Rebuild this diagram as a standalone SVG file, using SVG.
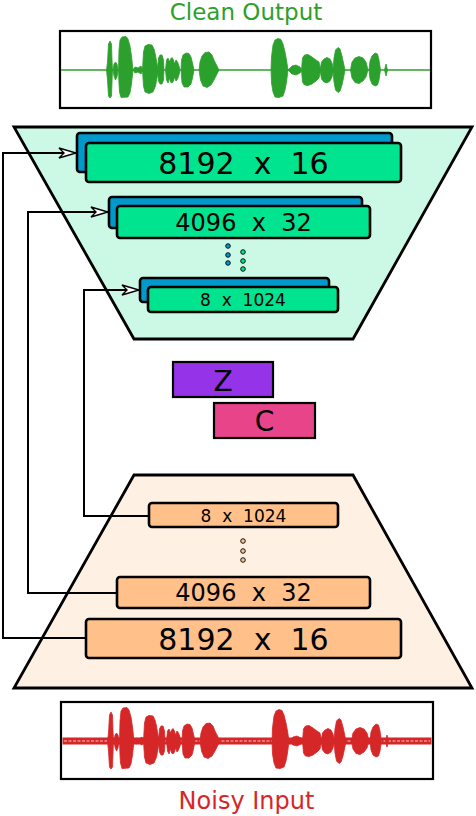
<svg xmlns="http://www.w3.org/2000/svg" xmlns:xlink="http://www.w3.org/1999/xlink" width="476" height="816" viewBox="0 0 476 816">
<style>
text{font-family:"DejaVu Sans","Liberation Sans",sans-serif;text-anchor:middle;fill:#000}
.trap{stroke:#000;stroke-width:2.8;stroke-linejoin:miter}
.blk{stroke:#000;stroke-width:2.6}
.back{fill:#0099cc}
.front{fill:#00e38f}
.enc{fill:#ffc08a}
.conn{fill:none;stroke:#000;stroke-width:2}
.wbox{fill:#fff;stroke:#000;stroke-width:2.2}
.dot{stroke:#000;stroke-width:0.9}
</style>
<defs>
<marker id="arr" markerWidth="20" markerHeight="12" refX="17" refY="5" orient="auto" markerUnits="userSpaceOnUse" overflow="visible">
<path d="M0,0 L17,5 L0,10 L5,5 Z" fill="#fff" stroke="#000" stroke-width="1.4" stroke-linejoin="miter"/>
</marker>
<path id="wave" stroke-width="0.8" stroke-linejoin="round" d="M106.5,70 L107.5,62 L108.5,44 L110,41 L111.5,44 L112,60 L112.5,70 L112,82 L111.5,96 L110,98 L108.5,96 L107.5,80 Z
M113,70 L114,64 L115.5,62 L117,64 L118,70 L117,77 L115.5,80 L114,76 Z
M118.5,70 L119,50 L120,40 L122,37 L126,36.5 L128,39 L130,46 L131.5,56 L133,70 L131.5,84 L130,93 L128,97 L121,97.5 L119.5,92 L119,84 Z
M133,70 L135,67 L138,68 L141,66 L143,70 L141,74 L138,72 L135,73 Z
M142.5,70 L143.5,52 L145,46 L148,44.5 L152,45 L154,49 L155.5,55 L157,64 L158,70 L157,78 L155.5,86 L153,92 L149,93.5 L145,92 L143.5,86 Z
M157.5,70 L158.5,58 L160,55 L162,55 L163.5,60 L164,70 L163.5,80 L162,84 L160,84 L158.5,81 Z
M165.5,70 L166.5,60 L168,58 L169.5,62 L170.5,59 L172,57.5 L173.5,60 L174.5,64 L176,60 L177.5,62 L179,66 L180,70 L179,75 L177.5,79 L176,81 L174.5,77 L173.5,81 L172,83 L170.5,82 L169.5,78 L168,83 L166.5,80 Z
M181,70 L181.5,60 L183,55 L186,53 L189,53.5 L191,57 L192.5,63 L194,70 L192.5,78 L191,84 L188,87 L184,87 L182,83 Z
M199,70 L200,62 L202,56 L205,52.5 L209,52 L212,55 L214,60 L216.5,65 L219,70 L216.5,75 L214,80 L211,85 L207,87.5 L203,86 L200.5,80 Z
M271,70 L271.5,57 L273,45 L275,40 L278,38.5 L281,39.5 L283,44 L285,52 L286.5,60 L288,70 L286.5,82 L285,90 L283,96 L279,97.5 L275,97 L273,92 L271.5,83 Z
M288,70 L292,66 L296,65 L300,67 L302,70 L300,73 L296,75 L292,74 Z
M301.5,70 L302.5,58 L304.5,55 L308,54.5 L312,57 L316,60 L319,62 L320.5,70 L319,78 L316,81 L312,84 L308,85.5 L304.5,85 L302.5,82 Z
M320,70 L321.5,62 L324,59 L327,57.5 L330,59 L332,63 L333.5,70 L332,77 L330,81 L327,83 L324,82 L321.5,79 Z
M333,70 L334,58 L335.5,50 L338,47.5 L340,49 L342,56 L343.5,63 L345,70 L343.5,78 L342,85 L340,91 L338,92.5 L335.5,90 L334,82 Z
M350.5,70 L352,62 L355,58 L359,56.5 L363,58 L366,62 L368,70 L366,77 L363,81 L359,83.5 L355,82.5 L352,78 Z
M369,70 L370,61 L372,56 L375,53 L377.5,54 L379,60 L380.5,70 L379,80 L377.5,85 L375,86 L372,84 L370,79 Z
M384.5,70 L386,64 L387.5,70 L386,76 Z"/>
</defs>

<g id="clean-output">
<text x="246" y="20" font-size="23" style="fill:#2ca02c">Clean Output</text>
<rect class="wbox" x="60" y="31" width="371" height="77"/>
<line x1="61" y1="70" x2="430" y2="70" stroke="#2ca02c" stroke-width="1.5"/>
<use xlink:href="#wave" fill="#2ca02c" stroke="#2ca02c"/>
</g>

<g id="decoder">
<polygon class="trap" points="14,127 472,127 353,339 134,339" fill="#ccf8e6"/>
</g>
<g id="encoder">
<polygon class="trap" points="134,475 353,475 472,688 14,688" fill="#fef1e4"/>
</g>

<g id="connectors">
<path class="conn" d="M86,638 H3 V153 H76" marker-end="url(#arr)"/>
<path class="conn" d="M117,593 H28 V212 H108" marker-end="url(#arr)"/>
<path class="conn" d="M148,516 H84 V290 H139" marker-end="url(#arr)"/>
</g>

<g id="dec-8192">
<rect class="blk back" x="77" y="133" width="315" height="39" rx="3"/>
<rect class="blk front" x="86" y="143" width="315" height="39" rx="3"/>
<text x="243.5" y="174" font-size="30" xml:space="preserve">8192  x  16</text>
</g>
<g id="dec-4096">
<rect class="blk back" x="109" y="197" width="253" height="31" rx="3"/>
<rect class="blk front" x="117" y="206" width="253" height="32" rx="3"/>
<text x="243.5" y="231" font-size="24" xml:space="preserve">4096  x  32</text>
</g>
<g id="dec-dots">
<circle class="dot" cx="228" cy="246" r="2.3" fill="#0099cc"/>
<circle class="dot" cx="228" cy="255" r="2.3" fill="#0099cc"/>
<circle class="dot" cx="228" cy="263" r="2.3" fill="#0099cc"/>
<circle class="dot" cx="243" cy="252" r="2.3" fill="#00e38f"/>
<circle class="dot" cx="243" cy="261" r="2.3" fill="#00e38f"/>
<circle class="dot" cx="243" cy="269" r="2.3" fill="#00e38f"/>
</g>
<g id="dec-8">
<rect class="blk back" x="140" y="278" width="189" height="24" rx="3"/>
<rect class="blk front" x="148" y="287" width="190" height="25" rx="3"/>
<text x="243" y="306" font-size="17" xml:space="preserve">8  x  1024</text>
</g>

<g id="z">
<rect x="173" y="362" width="100" height="35" fill="#9433e8" stroke="#000" stroke-width="2.2"/>
<text x="223" y="391" font-size="28">Z</text>
</g>
<g id="c">
<rect x="214" y="403" width="101" height="35" fill="#e8448a" stroke="#000" stroke-width="2.2"/>
<text x="264.5" y="431" font-size="28">C</text>
</g>

<g id="enc-8">
<rect class="blk enc" x="149" y="503" width="189" height="24" rx="3"/>
<text x="243.5" y="522" font-size="17" xml:space="preserve">8  x  1024</text>
</g>
<g id="enc-dots">
<circle class="dot" cx="243" cy="541" r="2.3" fill="#ffc08a"/>
<circle class="dot" cx="243" cy="551" r="2.3" fill="#ffc08a"/>
<circle class="dot" cx="243" cy="560" r="2.3" fill="#ffc08a"/>
</g>
<g id="enc-4096">
<rect class="blk enc" x="117" y="577" width="253" height="31" rx="3"/>
<text x="243.5" y="601" font-size="24" xml:space="preserve">4096  x  32</text>
</g>
<g id="enc-8192">
<rect class="blk enc" x="86" y="619" width="315" height="39" rx="3"/>
<text x="243.5" y="650" font-size="30" xml:space="preserve">8192  x  16</text>
</g>

<g id="noisy-input">
<rect class="wbox" x="61" y="702" width="372" height="77"/>
<rect x="63" y="738" width="368" height="6" fill="#d62728" stroke="#d62728" stroke-width="1"/>
<line x1="64" y1="741" x2="430" y2="741" stroke="#f4c6c6" stroke-width="1" stroke-dasharray="3,1.5"/>
<use xlink:href="#wave" fill="#d62728" stroke="#d62728" transform="translate(1,671)"/>
<text x="246.5" y="809" font-size="24" style="fill:#d62728">Noisy Input</text>
</g>
</svg>
